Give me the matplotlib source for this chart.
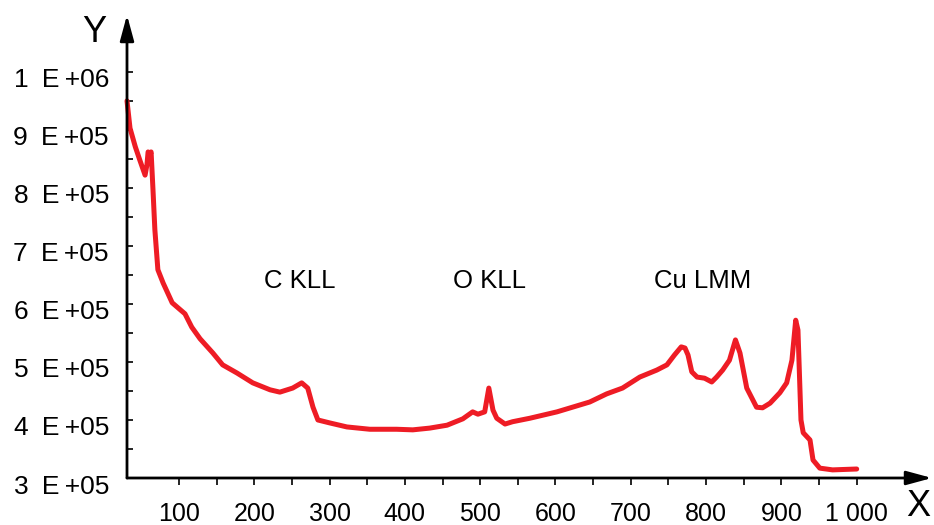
import matplotlib
matplotlib.use("Agg")
import matplotlib.pyplot as plt
import matplotlib.transforms as mtransforms
from matplotlib.ticker import FixedLocator

# Spectrum: kinetic energy (X) vs counts (Y)
energy = [31, 35, 42, 48, 55, 57.5, 59, 61.5, 63, 65.5, 68, 72, 79, 91, 108,
          117, 128, 145, 158, 177, 198, 221, 234, 251, 263, 271, 278, 284.5,
          300, 323, 353.5, 389, 410.5, 433, 456, 477, 490, 497, 506, 511.5, 517,
          522, 533, 543, 566, 602, 645.5, 668, 689, 712, 734.5, 748, 758, 767,
          772, 776, 781, 788, 798, 807.5, 814, 822, 831, 839, 845, 854, 867, 875,
          885, 898, 907, 914, 919, 922, 926, 929, 938, 942, 951, 968, 1000]
counts_k = [950, 903, 871, 848, 822, 840, 862, 857, 862, 797, 728, 659, 636, 602,
            583, 560, 540, 515.5, 495, 481, 464, 452, 448, 455, 464, 455, 422,
            400, 395, 388, 384, 384, 383, 386, 391, 402, 414, 410, 414, 455, 417,
            403, 393, 397, 403, 414, 431, 445, 455, 474, 486, 495, 512, 526, 524,
            512, 483, 474, 472, 465.5, 474, 486, 503, 538, 515.5, 455, 422, 421,
            429, 447, 464, 503, 572, 555, 400, 378, 365.5, 331, 317, 314, 315.5]
counts = [c * 1000 for c in counts_k]

y_ticks = [3e5, 4e5, 5e5, 6e5, 7e5, 8e5, 9e5, 1e6]
y_labels = ["3\u2002E\u2009+05", "4\u2002E\u2009+05", "5\u2002E\u2009+05",
            "6\u2002E\u2009+05", "7\u2002E\u2009+05", "8\u2002E\u2009+05",
            "9\u2002E\u2009+05", "1\u2002E\u2009+06"]
x_ticks = [100, 200, 300, 400, 500, 600, 700, 800, 900, 1000]
x_labels = ["100", "200", "300", "400", "500", "600", "700", "800", "900", "1 000"]

peak_names = ["C KLL", "O KLL", "Cu LMM"]
peak_label_x = [261, 512, 796]
peak_label_y = [639e3, 639e3, 639e3]

plt.rcParams["font.family"] = ["Liberation Sans", "DejaVu Sans"]

fig = plt.figure(figsize=(9.34, 5.25), dpi=100)
ax = fig.add_axes([127 / 934, 47 / 525, 805 / 934, 463 / 525])

ax.plot(energy, counts, color="#ee1c25", lw=3.6, solid_joinstyle="round",
        solid_capstyle="round", clip_on=False)

ax.set_xlim(31, 1100)
ax.set_ylim(3e5, 1.098e6)

for s in ax.spines.values():
    s.set_visible(False)

# axis lines with arrow heads
arrow = dict(arrowstyle="-|>,head_length=1.55,head_width=0.42", color="black",
             lw=2, shrinkA=0, shrinkB=0, mutation_scale=10)
ax.annotate("", xy=(1, 0), xytext=(0, 0), xycoords="axes fraction",
            arrowprops=arrow)
ax.annotate("", xy=(0, 1), xytext=(0, 0), xycoords="axes fraction",
            arrowprops=arrow)

ax.set_yticks(y_ticks)
ax.set_yticklabels(y_labels, fontsize=19)
ax.yaxis.set_minor_locator(FixedLocator([3.5e5, 4.5e5, 5.5e5, 6.5e5, 7.5e5,
                                          8.5e5, 9.5e5]))
ax.set_xticks(x_ticks)
ax.set_xticklabels(x_labels, fontsize=18)
ax.xaxis.set_minor_locator(FixedLocator([150, 250, 350, 450, 550, 650, 750,
                                          850, 950]))
ax.tick_params(axis="y", which="both", direction="in", length=4, width=1.2,
               pad=13, colors="black")
ax.tick_params(axis="x", which="both", direction="out", length=5, width=1.2,
               pad=12, colors="black")

# y labels sit slightly below their ticks
shift = mtransforms.ScaledTranslation(0, -6 / 100, fig.dpi_scale_trans)
for lbl in ax.get_yticklabels():
    lbl.set_transform(lbl.get_transform() + shift)

for name, px, py in zip(peak_names, peak_label_x, peak_label_y):
    ax.text(px, py, name, fontsize=18.5, ha="center", va="center")

fig.text(94 / 934, 1 - 32 / 525, "Y", fontsize=26, ha="center", va="center")
fig.text(918 / 934, 1 - 507 / 525, "X", fontsize=26, ha="center", va="center")

fig.savefig("out.png", dpi=100)
